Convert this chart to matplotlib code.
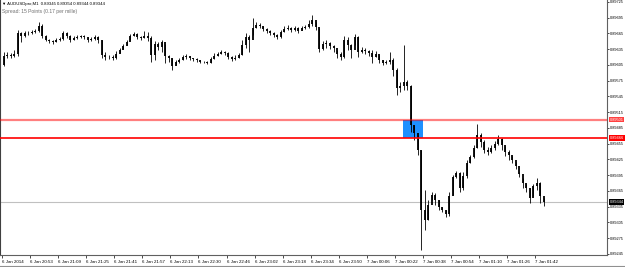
import matplotlib
matplotlib.use("Agg")
import matplotlib.pyplot as plt
import matplotlib.transforms as mtransforms
from matplotlib.patches import Rectangle
from matplotlib import font_manager

# ---- data (AUDUSDpro M1, sampled every 2 minutes) ----
close = [0.89605, 0.89622, 0.89624, 0.89622, 0.89626, 0.89666, 0.89660, 0.89666, 0.89666, 0.89668,
         0.89670, 0.89679, 0.89660, 0.89653, 0.89651, 0.89649, 0.89653, 0.89654, 0.89666, 0.89660,
         0.89653, 0.89656, 0.89658, 0.89660, 0.89658, 0.89653, 0.89654, 0.89658, 0.89653, 0.89624,
         0.89620, 0.89620, 0.89618, 0.89626, 0.89634, 0.89641, 0.89649, 0.89660, 0.89664, 0.89658,
         0.89656, 0.89660, 0.89656, 0.89624, 0.89645, 0.89639, 0.89649, 0.89622, 0.89618, 0.89603,
         0.89611, 0.89614, 0.89620, 0.89622, 0.89618, 0.89616, 0.89614, 0.89611, 0.89611, 0.89609,
         0.89616, 0.89622, 0.89626, 0.89630, 0.89628, 0.89620, 0.89616, 0.89618, 0.89624, 0.89643,
         0.89658, 0.89653, 0.89675, 0.89681, 0.89679, 0.89674, 0.89670, 0.89666, 0.89662, 0.89658,
         0.89668, 0.89674, 0.89675, 0.89672, 0.89675, 0.89670, 0.89675, 0.89677, 0.89683, 0.89691,
         0.89677, 0.89635, 0.89645, 0.89647, 0.89641, 0.89637, 0.89626, 0.89620, 0.89653, 0.89643,
         0.89634, 0.89658, 0.89630, 0.89634, 0.89632, 0.89628, 0.89620, 0.89626, 0.89614, 0.89609,
         0.89611, 0.89614, 0.89595, 0.89561, 0.89565, 0.89573, 0.89565, 0.89491, 0.89475, 0.89443,
         0.89329, 0.89310, 0.89338, 0.89357, 0.89348, 0.89335, 0.89329, 0.89321, 0.89355, 0.89392,
         0.89399, 0.89371, 0.89394, 0.89418, 0.89430, 0.89447, 0.89472, 0.89458, 0.89443, 0.89439,
         0.89447, 0.89455, 0.89464, 0.89453, 0.89439, 0.89434, 0.89424, 0.89413, 0.89397, 0.89380,
         0.89371, 0.89352, 0.89375, 0.89380, 0.89355, 0.89344]
high = [0.89618, 0.89630, 0.89630, 0.89628, 0.89634, 0.89672, 0.89668, 0.89670, 0.89670, 0.89672,
        0.89674, 0.89687, 0.89683, 0.89662, 0.89654, 0.89653, 0.89656, 0.89658, 0.89670, 0.89668,
        0.89662, 0.89660, 0.89662, 0.89662, 0.89662, 0.89658, 0.89658, 0.89662, 0.89660, 0.89653,
        0.89630, 0.89624, 0.89624, 0.89632, 0.89637, 0.89645, 0.89653, 0.89664, 0.89668, 0.89666,
        0.89660, 0.89670, 0.89668, 0.89660, 0.89651, 0.89649, 0.89653, 0.89645, 0.89624, 0.89618,
        0.89614, 0.89618, 0.89624, 0.89626, 0.89622, 0.89618, 0.89618, 0.89614, 0.89613, 0.89613,
        0.89620, 0.89628, 0.89630, 0.89634, 0.89632, 0.89630, 0.89622, 0.89624, 0.89628, 0.89653,
        0.89666, 0.89662, 0.89694, 0.89687, 0.89685, 0.89679, 0.89675, 0.89672, 0.89668, 0.89664,
        0.89672, 0.89679, 0.89681, 0.89677, 0.89679, 0.89677, 0.89679, 0.89681, 0.89691, 0.89700,
        0.89687, 0.89675, 0.89651, 0.89653, 0.89649, 0.89643, 0.89634, 0.89630, 0.89660, 0.89658,
        0.89645, 0.89664, 0.89660, 0.89639, 0.89637, 0.89634, 0.89634, 0.89632, 0.89624, 0.89614,
        0.89614, 0.89630, 0.89618, 0.89599, 0.89573, 0.89643, 0.89576, 0.89567, 0.89491, 0.89472,
        0.89443, 0.89367, 0.89348, 0.89363, 0.89361, 0.89348, 0.89335, 0.89329, 0.89363, 0.89395,
        0.89403, 0.89401, 0.89401, 0.89424, 0.89434, 0.89453, 0.89493, 0.89475, 0.89462, 0.89449,
        0.89453, 0.89460, 0.89472, 0.89466, 0.89451, 0.89443, 0.89432, 0.89420, 0.89401, 0.89390,
        0.89378, 0.89371, 0.89378, 0.89390, 0.89382, 0.89352]
low = [0.89595, 0.89603, 0.89618, 0.89618, 0.89620, 0.89622, 0.89649, 0.89658, 0.89662, 0.89664,
       0.89666, 0.89668, 0.89656, 0.89651, 0.89647, 0.89645, 0.89649, 0.89651, 0.89653, 0.89656,
       0.89649, 0.89653, 0.89654, 0.89656, 0.89654, 0.89649, 0.89651, 0.89653, 0.89647, 0.89618,
       0.89614, 0.89616, 0.89614, 0.89616, 0.89628, 0.89635, 0.89643, 0.89653, 0.89660, 0.89654,
       0.89653, 0.89656, 0.89651, 0.89611, 0.89614, 0.89634, 0.89630, 0.89609, 0.89611, 0.89595,
       0.89605, 0.89609, 0.89614, 0.89616, 0.89614, 0.89613, 0.89611, 0.89609, 0.89609, 0.89607,
       0.89609, 0.89616, 0.89622, 0.89626, 0.89624, 0.89616, 0.89613, 0.89614, 0.89618, 0.89624,
       0.89637, 0.89630, 0.89662, 0.89675, 0.89675, 0.89670, 0.89666, 0.89662, 0.89658, 0.89654,
       0.89656, 0.89668, 0.89672, 0.89668, 0.89670, 0.89666, 0.89672, 0.89674, 0.89675, 0.89679,
       0.89672, 0.89630, 0.89634, 0.89637, 0.89635, 0.89630, 0.89618, 0.89614, 0.89618, 0.89634,
       0.89618, 0.89643, 0.89620, 0.89628, 0.89626, 0.89622, 0.89609, 0.89620, 0.89609, 0.89605,
       0.89607, 0.89607, 0.89584, 0.89548, 0.89554, 0.89557, 0.89557, 0.89477, 0.89462, 0.89434,
       0.89253, 0.89291, 0.89310, 0.89348, 0.89338, 0.89329, 0.89325, 0.89315, 0.89317, 0.89357,
       0.89390, 0.89363, 0.89367, 0.89390, 0.89418, 0.89428, 0.89447, 0.89449, 0.89437, 0.89434,
       0.89437, 0.89443, 0.89453, 0.89443, 0.89432, 0.89424, 0.89418, 0.89407, 0.89392, 0.89371,
       0.89363, 0.89342, 0.89355, 0.89367, 0.89342, 0.89336]

bar_minutes = 2            # each sample spans 2 minutes
first_bar_minute = -1      # minutes relative to the first time label

time_labels = ["6 Jan 2014", "6 Jan 20:53", "6 Jan 21:09", "6 Jan 21:25", "6 Jan 21:41",
               "6 Jan 21:57", "6 Jan 22:13", "6 Jan 22:30", "6 Jan 22:46", "6 Jan 23:02",
               "6 Jan 23:18", "6 Jan 23:34", "6 Jan 23:50", "7 Jan 00:06", "7 Jan 00:22",
               "7 Jan 00:38", "7 Jan 00:54", "7 Jan 01:10", "7 Jan 01:26", "7 Jan 01:42"]
label_step_minutes = 16

price_ticks = [0.89245, 0.89275, 0.89305, 0.89335, 0.89365, 0.89395, 0.89425, 0.89455, 0.89485,
               0.89515, 0.89545, 0.89575, 0.89605, 0.89635, 0.89665, 0.89695, 0.89725]

level_upper = 0.89501
level_lower = 0.89466
current_price = 0.89344
box_start_min = 228.6
box_end_min = 240.0

title_line1 = "AUDUSDpro,M1  0.89345 0.89354 0.89344 0.89344"
title_line2 = "Spread: 15 Points (0.17 per mille)"

# ---- fonts ----
plt.rcParams["font.family"] = ["Liberation Sans", "DejaVu Sans"]

# ---- figure ----
W, H = 625, 267
fig = plt.figure(figsize=(W / 100, H / 100), dpi=100)
ax = fig.add_axes([0, 1 - 255 / H, 607 / W, 255 / H])

n = len(close)
xs = [first_bar_minute + bar_minutes * i for i in range(n)]
opens = [close[0]] + close[:-1]

# rectangle object (behind candles)
ax.add_patch(Rectangle((box_start_min, level_lower), box_end_min - box_start_min,
                       level_upper - level_lower, facecolor="#1E90FF", edgecolor="none", zorder=1))

# current price line
ax.axhline(current_price, color="#c0c0c0", lw=0.8, zorder=1.5)

# candles
ax.vlines(xs, low, high, color="black", lw=0.6, zorder=2)
body_lo = [min(o, c) for o, c in zip(opens, close)]
body_hi = [max(o, c) for o, c in zip(opens, close)]
ax.vlines(xs, body_lo, body_hi, color="black", lw=1.3, zorder=2)

# horizontal levels
ax.axhline(level_upper, color="red", alpha=0.5, lw=1.6, zorder=3)
ax.axhline(level_lower, color="red", lw=1.2, zorder=3)

ax.set_xlim(-2 / 1.754, 605 / 1.754)
ax.set_ylim(0.892430, 0.897288)

# axes styling
ax.spines["top"].set_visible(False)
ax.spines["left"].set_color("#404040")
ax.spines["right"].set_color("#606060")
ax.spines["bottom"].set_color("#606060")
for s in ["left", "right", "bottom"]:
    ax.spines[s].set_linewidth(0.8)

ax.set_xticks([k * label_step_minutes for k in range(len(time_labels))])
ax.set_xticklabels(time_labels, fontsize=3.2, ha="left")
ax.tick_params(axis="x", length=2, width=0.5, pad=1.5, colors="black")

ax.yaxis.tick_right()
ax.set_yticks(price_ticks)
ax.set_yticklabels([f"{p:.5f}" for p in price_ticks], fontsize=2.8)
ax.tick_params(axis="y", length=1.5, width=0.5, pad=0.8, colors="black")

# special price labels on the axis
trans = mtransforms.blended_transform_factory(ax.transAxes, ax.transData)
for val, fc in [(level_upper, "#ff4040"), (level_lower, "red"), (current_price, "black")]:
    ax.text(1.0045, val, f"{val:.5f}", transform=trans, fontsize=2.8, color="white",
            va="center", ha="left", zorder=5,
            bbox=dict(boxstyle="square,pad=0.15", fc=fc, ec="none"), clip_on=False)

# header texts
fig.text(2 / W, 1 - 4 / H, "▼ " + title_line1, fontsize=3.1, color="black", va="center", ha="left")
fig.text(2 / W, 1 - 11 / H, title_line2, fontsize=3.6, color="#707070", va="center", ha="left")

# bottom window border
fig.add_artist(plt.Line2D([0, 1], [1.5 / H, 1.5 / H], color="#909090", lw=0.8))

fig.savefig("out.png", dpi=100)
